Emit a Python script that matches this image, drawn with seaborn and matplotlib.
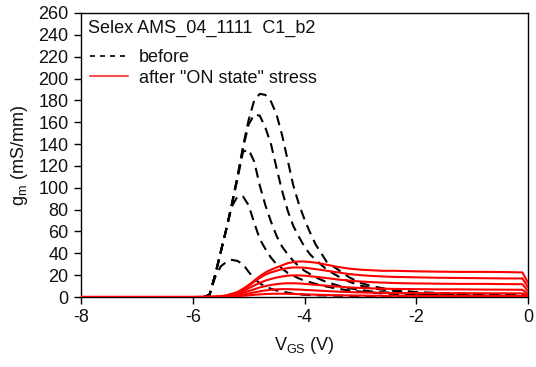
import numpy as np
import pandas as pd
import matplotlib
matplotlib.use("Agg")
import matplotlib.pyplot as plt
from matplotlib.lines import Line2D
import seaborn as sns

# ---------------- data ----------------
V_before = [-5.8, -5.7, -5.6, -5.5, -5.4, -5.3, -5.2, -5.1, -5.0, -4.9, -4.8, -4.7,
            -4.6, -4.5, -4.4, -4.3, -4.2, -4.1, -4.0, -3.9, -3.8, -3.6, -3.4, -3.2,
            -3.0, -2.8, -2.5, -2.0, -1.5, -1.0, -0.5, 0]

before_A = [0, 2, 20, 41, 62, 85, 110, 138, 162, 180, 186, 185,
            179, 167, 148, 125, 102, 85, 71, 59, 48, 32, 25, 18,
            13, 10, 7, 4.5, 3.5, 3, 2.5, 2]
before_B = [0, 2, 20, 41, 62, 85, 110, 136, 158, 167, 166, 155,
            140, 118, 97, 79, 65, 55, 46, 39, 34, 25, 19, 14,
            10.5, 8, 6, 4, 3, 2.5, 2, 1.5]
before_C = [0, 2, 20, 41, 62, 85, 108, 133, 135, 124, 102, 84,
            69, 56, 46, 39, 33, 28, 24, 21, 18, 13.5, 10.5, 8,
            6.5, 5, 4, 3, 2, 1.5, 1.2, 1]
before_D = [0, 2, 20, 41, 62, 83, 92, 92, 84, 68, 53, 44,
            36, 30, 26, 22, 19.5, 17, 15, 13.5, 12, 9.5, 7.5, 6,
            5, 4, 3, 2, 1.5, 1, 1, 0.8]
before_E = [0, 2, 18, 28, 32, 34, 33, 30, 23, 17, 12.5, 9.5,
            7.5, 6, 5, 4, 3, 2.5, 2, 1.8, 1.6, 1.4, 1.2, 1.0,
            0.9, 0.8, 0.7, 0.6, 0.5, 0.5, 0.5, 0.5]

V_after = [-8, -6, -5.6, -5.5, -5.4, -5.3, -5.2, -5.1, -5.0, -4.9, -4.8, -4.7, -4.6,
           -4.5, -4.4, -4.3, -4.2, -4.1, -4.0, -3.8, -3.6, -3.4, -3.2, -3.0, -2.8,
           -2.6, -2.4, -2.0, -1.6, -1.2, -0.8, -0.4, -0.1, 0]

after_1 = [0, 0, 0.3, 0.8, 1.5, 3, 4.5, 7.5, 11, 15, 19, 22.5, 25,
           27, 29, 31, 32, 32.5, 32.5, 31.5, 29.5, 27.5, 26, 25, 24.5,
           24, 24, 23.5, 23.2, 23, 23, 22.8, 22.5, 13]
after_2 = [0, 0, 0.2, 0.6, 1.2, 2.5, 4, 7, 10, 14, 17.5, 20.5, 22.5,
           24, 25.5, 26.5, 27, 27, 26.8, 25.5, 24, 22.5, 21, 20, 19.3,
           18.8, 18.4, 18, 17.6, 17.4, 17.2, 17, 17, 9]
after_3 = [0, 0, 0.1, 0.4, 1, 2, 3.5, 5.5, 8, 10.5, 13, 15, 16.5,
           17.8, 18.8, 19.5, 19.8, 19.8, 19.5, 18.5, 17.3, 16, 15, 14.2, 13.6,
           13.2, 12.8, 12.4, 12.2, 12, 12, 11.8, 11.7, 5.5]
after_4 = [0, 0, 0.1, 0.3, 0.7, 1.4, 2.5, 3.8, 5.5, 7, 8.8, 10, 11,
           11.8, 12.3, 12.6, 12.6, 12.4, 12, 11.2, 10.3, 9.5, 8.8, 8.3, 7.9,
           7.6, 7.4, 7.2, 7, 7, 6.8, 6.7, 6.6, 3]
after_5 = [0, 0, 0, 0.2, 0.4, 0.8, 1.4, 2.2, 3.2, 4.2, 5.2, 6, 6.6,
           7, 7.2, 7.2, 7, 6.8, 6.5, 6, 5.4, 4.9, 4.5, 4.2, 4,
           3.8, 3.7, 3.6, 3.5, 3.5, 3.4, 3.4, 3.3, 1.8]
after_6 = [0, 0, 0, 0.1, 0.2, 0.4, 0.7, 1.1, 1.5, 2, 2.4, 2.7, 2.9,
           3, 3, 2.9, 2.8, 2.6, 2.4, 2.1, 1.8, 1.6, 1.4, 1.3, 1.2,
           1.1, 1.1, 1, 1, 1, 1, 1, 1, 0.5]

x_ticks = [-8, -6, -4, -2, 0]
y_ticks = list(range(0, 261, 20))
header = "Selex AMS_04_1111  C1_b2"
label_before = "before"
label_after = 'after "ON state" stress'

# ---------------- style ----------------
sns.set_style("white")
plt.rcParams["font.family"] = ["Liberation Sans", "DejaVu Sans"]
plt.rcParams["mathtext.fontset"] = "custom"
plt.rcParams["mathtext.rm"] = "Liberation Sans"
plt.rcParams["mathtext.it"] = "Liberation Sans:italic"

fig = plt.figure(figsize=(5.36, 3.67), dpi=100)
ax = fig.add_axes([81 / 536, 1 - 297 / 367, (528 - 81) / 536, (297 - 13) / 367])

before_sets = [before_A, before_B, before_C, before_D, before_E]
after_sets = [after_1, after_2, after_3, after_4, after_5, after_6]

rows = []
for i, ys in enumerate(before_sets):
    for v, g in zip(V_before, ys):
        rows.append(("b%d" % i, v, g))
df_b = pd.DataFrame(rows, columns=["curve", "V", "gm"])
rows = []
for i, ys in enumerate(after_sets):
    for v, g in zip(V_after, ys):
        rows.append(("a%d" % i, v, g))
df_a = pd.DataFrame(rows, columns=["curve", "V", "gm"])

for name, sub in df_b.groupby("curve", sort=False):
    sns.lineplot(data=sub, x="V", y="gm", ax=ax, color="black", lw=1.5,
                 sort=False, estimator=None, legend=False, zorder=2)
    ax.lines[-1].set_dashes((4.8, 3.0))
for name, sub in df_a.groupby("curve", sort=False):
    sns.lineplot(data=sub, x="V", y="gm", ax=ax, color="#ff0000", lw=1.5,
                 sort=False, estimator=None, legend=False, zorder=3)

ax.set_xlim(-8, 0)
ax.set_ylim(0, 260)
ax.set_xticks(x_ticks)
ax.set_yticks(y_ticks)
ax.set_xticklabels([str(t) for t in x_ticks])
ax.set_yticklabels([str(t) for t in y_ticks])
ax.tick_params(axis="both", which="major", direction="out", length=5, width=1,
               labelsize=13, color="black", labelcolor="#111111",
               bottom=True, left=True, top=False, right=False, pad=4)
for s in ax.spines.values():
    s.set_color("black")
    s.set_linewidth(1.0)
    s.set_visible(True)
    s.set_zorder(1.5)

ax.set_xlabel(r"V$_{\mathrm{GS}}$ (V)", fontsize=13, color="#111111", labelpad=6)
ax.set_ylabel(r"g$_{\mathrm{m}}$ (mS/mm)", fontsize=13, color="#111111", labelpad=6)

ax.text(0.016, 0.945, header, transform=ax.transAxes, fontsize=13,
        color="#111111", va="center", ha="left")

handles = [Line2D([], [], color="black", lw=1.2, dashes=(3, 3)),
           Line2D([], [], color="#f05050", lw=1.5)]
leg = ax.legend(handles, [label_before, label_after], loc="upper left",
                bbox_to_anchor=(0.0, 0.905), frameon=False, fontsize=13,
                handlelength=2.1, handletextpad=0.6, labelspacing=0.2,
                borderaxespad=0.3, borderpad=0.2)
for t in leg.get_texts():
    t.set_color("#111111")

fig.savefig("out.png", dpi=100)
